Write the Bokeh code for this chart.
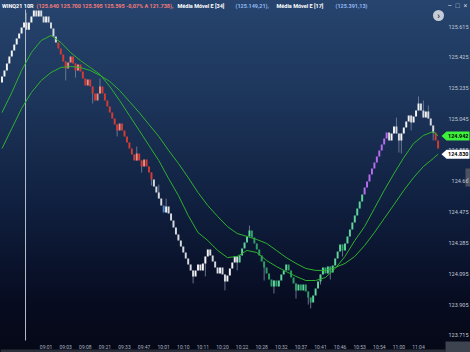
from bokeh.plotting import figure
from bokeh.models import Range1d, Label, PolyAnnotation, ColumnDataSource
from bokeh.core.properties import value
from bokeh.embed import file_html
from bokeh.resources import INLINE

# ---------------- data ----------------
first_open = 125.271
closes = [
    125.308, 125.345, 125.388, 125.431, 125.468, 125.504, 125.541, 125.572, 125.609, 125.640,
    125.595, 125.640, 125.677, 125.714, 125.677, 125.714, 125.677, 125.640, 125.677, 125.640,
    125.603, 125.554, 125.517, 125.480, 125.443, 125.400, 125.357, 125.394, 125.431, 125.388,
    125.345, 125.381, 125.338, 125.295, 125.252, 125.289, 125.246, 125.203, 125.160, 125.203,
    125.246, 125.203, 125.160, 125.123, 125.086, 125.049, 125.012, 124.976, 125.019, 124.976,
    124.939, 124.902, 124.865, 124.828, 124.791, 124.834, 124.791, 124.754, 124.797, 124.754,
    124.717, 124.674, 124.631, 124.594, 124.557, 124.514, 124.471, 124.508, 124.465, 124.422,
    124.379, 124.336, 124.299, 124.262, 124.225, 124.188, 124.151, 124.115, 124.078, 124.115,
    124.151, 124.115, 124.158, 124.201, 124.244, 124.207, 124.170, 124.133, 124.096, 124.133,
    124.090, 124.047, 124.084, 124.127, 124.164, 124.201, 124.164, 124.207, 124.250, 124.287,
    124.324, 124.361, 124.317, 124.281, 124.244, 124.207, 124.170, 124.133, 124.096, 124.059,
    124.016, 124.053, 124.016, 124.053, 124.090, 124.115, 124.151, 124.115, 124.071, 124.035,
    123.992, 124.028, 123.992, 124.028, 123.985, 123.948, 123.918, 123.961, 124.004, 124.047,
    124.090, 124.133, 124.096, 124.139, 124.102, 124.145, 124.188, 124.231, 124.274, 124.238,
    124.281, 124.324, 124.367, 124.410, 124.453, 124.496, 124.539, 124.582, 124.625, 124.662,
    124.705, 124.742, 124.779, 124.816, 124.853, 124.889, 124.926, 124.963, 124.914, 124.957,
    125.000, 124.957, 124.914, 124.957, 124.994, 125.031, 125.068, 125.025, 125.062, 125.099,
    125.142, 125.099, 125.055, 125.092, 125.049, 125.006, 124.963, 124.914, 124.865,
]

# colouring regime of the bars (start bar index, kind)
seg_start = [0, 23, 62, 66, 67, 97, 148, 158, 177]
seg_kind = ["neutral", "sell", "neutral", "blue", "neutral", "buy", "strong", "neutral", "sell"]

# visible wicks (bar index, low, high)
wick_bar = [10, 26, 30, 37, 40, 47, 55, 57, 61, 64, 67, 78, 83, 91, 96, 101, 107, 111,
            120, 125, 126, 130, 134, 139, 161, 162, 163, 167, 170, 172, 174, 176]
wick_low = [125.595, 125.283, 125.301, 125.142, 125.203, 124.939, 124.791, 124.717, 124.637,
            124.557, 124.471, 124.035, 124.078, 123.992, 124.115, 124.324, 124.053, 123.973,
            123.942, 123.905, 123.881, 124.028, 124.059, 124.201, 124.957, 124.840, 124.834,
            124.976, 125.099, 125.055, 125.049, 124.914]
wick_high = [125.700, 125.400, 125.388, 125.246, 125.295, 125.012, 124.877, 124.791, 124.717,
             124.643, 124.557, 124.115, 124.201, 124.090, 124.201, 124.391, 124.170, 124.053,
             124.035, 123.985, 123.948, 124.090, 124.139, 124.274, 125.055, 124.957, 124.957,
             125.068, 125.185, 125.160, 125.129, 125.006]

# moving averages, sampled every 4 bars
ema_bar = [0, 4, 8, 12, 16, 20, 24, 28, 32, 36, 40, 44, 48, 52, 56, 60, 64, 68, 72, 76, 80,
           84, 88, 92, 96, 100, 104, 108, 112, 116, 120, 124, 128, 132, 136, 140, 144, 148,
           152, 156, 160, 164, 168, 172, 176, 178]
ema17 = [125.086, 125.209, 125.345, 125.455, 125.529, 125.560, 125.517, 125.455, 125.406,
         125.363, 125.320, 125.246, 125.160, 125.068, 124.976, 124.883, 124.791, 124.680,
         124.576, 124.453, 124.348, 124.299, 124.238, 124.194, 124.201, 124.238, 124.225,
         124.176, 124.139, 124.108, 124.078, 124.053, 124.053, 124.071, 124.127, 124.201,
         124.299, 124.385, 124.496, 124.607, 124.711, 124.809, 124.896, 124.945, 124.969,
         124.942]
ema34 = [124.865, 124.988, 125.111, 125.209, 125.283, 125.332, 125.363, 125.369, 125.363,
         125.345, 125.314, 125.277, 125.222, 125.154, 125.086, 125.012, 124.939, 124.853,
         124.773, 124.686, 124.594, 124.514, 124.447, 124.385, 124.342, 124.324, 124.305,
         124.281, 124.238, 124.194, 124.158, 124.127, 124.115, 124.115, 124.133, 124.158,
         124.201, 124.268, 124.348, 124.434, 124.520, 124.607, 124.686, 124.754, 124.803,
         124.830]

time_bar = [18, 26, 34, 42, 50, 58, 66, 74, 82, 90, 98, 106, 114, 122, 130, 138, 146, 154, 162, 170]
time_labels = ["09:01", "09:03", "09:08", "09:21", "09:33", "09:47", "10:01", "10:10", "10:11",
               "10:20", "10:22", "10:28", "10:32", "10:37", "10:41", "10:46", "10:53", "10:54",
               "11:00", "11:04"]
price_ticks = [125.615, 125.425, 125.235, 125.045, 124.855, 124.665, 124.475, 124.285,
               124.095, 123.905, 123.715]
price_labels = ["125.615", "125.425", "125.235", "125.045", "124.855", "124.66", "124.475",
                "124.285", "124.095", "123.905", "123.715"]
cursor_bar = 9.6
last_ema17 = 124.942
last_ema34 = 124.830
last_ema17_label = "124.942"
last_ema34_label = "124.830"

# ---------------- layout helpers (pixel -> data, decoration only) ----------------
PX_PER_BAR = 2.45
PRICE_PER_PX = 0.00615
TOP_PRICE = 125.775
FONT = value("Roboto")


def fx(px):
    return (px - 1.5) / PX_PER_BAR


def fy(py):
    return TOP_PRICE - py * PRICE_PER_PX


palette = {
    "neutral": ("#f4f4f4", "#d6d9df"),
    "sell": ("#f28b82", "#d23c35"),
    "buy": ("#5fd59c", "#2f9e66"),
    "strong": ("#b96cf0", "#b96cf0"),
    "blue": ("#4f86c6", "#4f86c6"),
}

opens = [first_open] + closes[:-1]
colors, tops, bottoms = [], [], []
k = 0
for i, (o, c) in enumerate(zip(opens, closes)):
    while k + 1 < len(seg_start) and i >= seg_start[k + 1]:
        k += 1
    up = c > o
    colors.append(palette[seg_kind[k]][0 if up else 1])
    tops.append(max(o, c))
    bottoms.append(min(o, c))

src = ColumnDataSource(dict(x=list(range(len(closes))), top=tops, bottom=bottoms, color=colors))

p = figure(width=470, height=352, output_backend="svg", toolbar_location=None,
           x_range=Range1d(fx(0), fx(470)), y_range=Range1d(fy(352), fy(0)),
           x_axis_type=None, y_axis_type=None, min_border=0,
           background_fill_alpha=0, border_fill_alpha=0, outline_line_color=None)
p.styles = {"background": "linear-gradient(180deg, #26446e 0%, #1c3459 30%, #0f1e3d 60%, #070c21 85%, #050816 100%)"}
p.grid.visible = False

# bottom scroll strip, corner box and right scroll tab
p.quad(left=[fx(0), fx(445), fx(465)], right=[fx(445), fx(471), fx(471)],
       top=[fy(349), fy(341), fy(168)], bottom=[fy(353), fy(353), fy(186)],
       fill_color=["#2a2f3b", "#3e4350", "#4a5262"], line_color=None)

# cursor line
p.segment(x0=[cursor_bar], x1=[cursor_bar], y0=[fy(9)], y1=[fy(340)],
          line_color="#b4bccb", line_width=1)

# wicks, bodies, averages
p.segment(x0=wick_bar, x1=wick_bar, y0=wick_low, y1=wick_high, line_color="#6f7d96",
          line_width=1, line_alpha=0.9)
p.vbar(x="x", top="top", bottom="bottom", width=0.8, fill_color="color", line_color=None,
       source=src)
p.line(ema_bar, ema34, line_color="#2fb12f", line_width=1)
p.line(ema_bar, ema17, line_color="#2fb12f", line_width=1)

# price scale (right) and time scale (bottom)
p.text(x=[fx(468)] * len(price_ticks), y=price_ticks, text=price_labels,
       text_color="#c3cad6", text_font=FONT, text_font_size="5.5px",
       text_align="right", text_baseline="middle")
p.text(x=time_bar, y=[fy(346)] * len(time_bar), text=time_labels,
       text_color="#aab3c2", text_font=FONT, text_font_size="5px",
       text_align="center", text_baseline="middle")
p.text(x=[fx(467.5)], y=[fy(177)], text=["‹"], text_color="#c8cfd9", text_font=FONT,
       text_font_size="6px", text_align="center", text_baseline="middle")

# title strip
title_parts = [
    (1.5, "WINQ21 10R", "#ffffff"),
    (36, "(125.640  125.700  125.595  125.595  -0,07%  A 121.738),", "#f47c7c"),
    (177, "Média Móvel E [34]", "#ffffff"),
    (235, "(125.149,21),", "#8fb8f0"),
    (276, "Média Móvel E [17]", "#ffffff"),
    (335, "(125.391,13)", "#8fb8f0"),
]
for px, t, col in title_parts:
    p.add_layout(Label(x=fx(px), y=fy(5), text=t, text_color=col, text_font="Roboto",
                       text_font_size="5.5px", text_font_style="bold", text_baseline="middle"))

# window controls and round button
for px, t in [(447, "–"), (455, "□"), (463, "×")]:
    p.add_layout(Label(x=fx(px), y=fy(5), text=t, text_color="#c8cfd9", text_font="Roboto",
                       text_font_size="7px", text_baseline="middle"))
p.scatter(x=[fx(438)], y=[fy(15)], size=11, fill_color="#c5ccd6", line_color=None)
p.add_layout(Label(x=fx(438), y=fy(15), text="›", text_color="#1e2d48", text_font="Roboto",
                   text_font_size="9px", text_font_style="bold", text_align="center",
                   text_baseline="middle"))


# last-value tags
def tag(val, fill, txt):
    h = 4.5 * PRICE_PER_PX
    p.add_layout(PolyAnnotation(xs=[fx(441), fx(446), fx(469), fx(469), fx(446)],
                                ys=[val, val + h, val + h, val - h, val - h],
                                fill_color=fill, fill_alpha=1, line_color=None))
    p.add_layout(Label(x=fx(447.5), y=val, text=txt, text_color="#000000", text_font="Roboto",
                       text_font_size="5.5px", text_font_style="bold", text_baseline="middle"))


tag(last_ema17, "#3cf03c", last_ema17_label)
tag(last_ema34, "#ffffff", last_ema34_label)

open("out.html", "w").write(file_html(p, INLINE))
